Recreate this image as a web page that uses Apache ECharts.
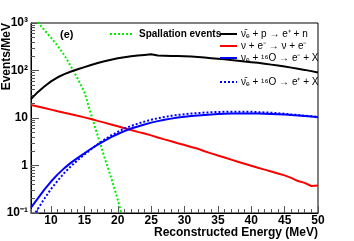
<!DOCTYPE html>
<html><head><meta charset="utf-8">
<script src="https://cdn.jsdelivr.net/npm/echarts@6/dist/echarts.min.js"></script>
<style>html,body{margin:0;padding:0;background:#fff}#c{width:354px;height:241px}</style>
</head><body><div id="c"></div>
<script>
// Energies (MeV)
const energy = [7,8,9,10,11,12,13,14,15,16,17,18,19,20,21,22,23,24,25,26,27,28,29,30,31,32,33,34,35,36,37,38,39,40,41,42,43,44,45,46,47,48,49,50];
const ibd = [25,35,46,59,72,84,95,106,118,131,144,157,169,181,191,199,207,213,219,207,205,203,201,199,196,192,187,182,177,172,166,161,155,150,145,139,133,127,121,115,109,103,97,91];
const nuE = [18.8,17.5,16.2,15.0,13.9,12.9,12.0,11.1,10.3,9.5,8.7,8.0,7.3,6.7,6.1,5.6,5.1,4.7,4.3,3.9,3.55,3.25,2.95,2.7,2.45,2.25,2.0,1.8,1.62,1.47,1.33,1.2,1.09,0.99,0.9,0.82,0.75,0.68,0.62,0.55,0.47,0.43,0.37,0.38];
const nueO = [0.13,0.2,0.31,0.46,0.65,0.88,1.15,1.45,1.8,2.25,2.75,3.3,3.95,4.6,5.3,6.0,6.6,7.3,8.0,8.6,9.2,9.7,10.2,10.6,11.0,11.3,11.6,11.9,12.1,12.3,12.4,12.5,12.5,12.5,12.4,12.3,12.2,12.0,11.8,11.5,11.3,11.0,10.7,10.4];
const nuebarO = [0.075,0.12,0.2,0.32,0.48,0.7,0.97,1.3,1.7,2.2,2.8,3.5,4.3,5.1,6.0,6.8,7.6,8.4,9.2,9.9,10.5,11.1,11.6,12.0,12.4,12.7,13.0,13.2,13.4,13.5,13.6,13.6,13.6,13.5,13.3,13.1,12.9,12.6,12.3,11.9,11.6,11.2,10.9,10.5];
const spallE = [8,9,10,11,12,13,14,15,16,17,18,19,20,21];
const spall = [1050,710,490,330,210,120,67,35,12,4.2,1.5,0.56,0.19,0.056];
const xTicks = [10,15,20,25,30,35,40,45,50];
const yMinor = [0.2,0.3,0.4,0.5,0.6,0.7,0.8,0.9,2,3,4,5,6,7,8,9,20,30,40,50,60,70,80,90,200,300,400,500,600,700,800,900];
const names = ['Spallation events','ν̄ₑ + p → e⁺ + n','ν + e⁻ → ν + e⁻','νₑ + ¹⁶O → e⁻ + X','ν̄ₑ + ¹⁶O → e⁺ + X'];
const yLabels = {'0.1':'10⁻¹','1':'1','10':'10','100':'10²','1000':'10³'};

const pairs = (xs, ys) => xs.map((x, i) => [x, ys[i]]);
const FONT = 'Liberation Sans, Arial, sans-serif';
const chart = echarts.init(document.getElementById('c'), null, {renderer: 'canvas'});
const mk = (name, xs, ys, color, type) => ({
  name, type: 'line', data: pairs(xs, ys), symbol: 'none', smooth: false, clip: true,
  lineStyle: {color, width: 2, type}, itemStyle: {color}, z: 3
});
const legendBase = {itemHeight: 10, itemGap: 2, itemStyle: {opacity: 0}, textStyle: {fontFamily: FONT, fontSize: 10, color: '#000', padding: [0, 0, 0, -1]}};
chart.setOption({
  animation: false,
  grid: {left: 31, top: 23, right: 36, bottom: 28, show: true, borderColor: '#000', borderWidth: 1},
  xAxis: [{
    type: 'value', min: 7, max: 50,
    axisLine: {show: true, lineStyle: {color: '#000', width: 1}},
    axisTick: {show: true, inside: true, length: 7, customValues: xTicks, lineStyle: {color: '#555'}},
    axisLabel: {customValues: xTicks, color: '#000', fontFamily: FONT, fontWeight: 'bold', fontSize: 12, margin: 2},
    splitLine: {show: false}
  }, {
    type: 'value', min: 7, max: 50, interval: 1, position: 'bottom',
    axisLine: {show: false},
    axisTick: {show: true, inside: true, length: 4, lineStyle: {color: '#555'}},
    axisLabel: {show: false}, splitLine: {show: false}
  }],
  yAxis: [{
    type: 'log', logBase: 10, min: 0.1, max: 1000,
    axisLine: {show: true, lineStyle: {color: '#000', width: 1}},
    axisTick: {show: true, inside: true, length: 8, lineStyle: {color: '#555'}},
    axisLabel: {color: '#000', fontFamily: FONT, fontWeight: 'bold', fontSize: 12, margin: 3,
      formatter: v => yLabels[String(+v.toPrecision(6))] || ''},
    splitLine: {show: false}
  }, {
    type: 'log', logBase: 10, min: 0.1, max: 1000, position: 'left',
    axisLine: {show: false},
    axisTick: {show: true, inside: true, length: 4, customValues: yMinor, lineStyle: {color: '#555'}},
    axisLabel: {show: false}, splitLine: {show: false}
  }],
  legend: [Object.assign({}, legendBase, {
    data: [names[0]], left: 104, top: 24, itemWidth: 24,
    textStyle: {fontFamily: FONT, fontWeight: 'bold', fontSize: 10, color: '#000'}
  }), Object.assign({}, legendBase, {
    data: [names[1], names[2], names[3]], orient: 'vertical', left: 214, top: 24, itemWidth: 17
  }), Object.assign({}, legendBase, {
    data: [names[4]], left: 214, top: 72, itemWidth: 17
  })],
  graphic: [
    {type: 'text', x: 60, y: 35, style: {text: '(e)', font: 'bold 11px ' + FONT, fill: '#000', verticalAlign: 'middle'}},
    {type: 'text', x: 318, y: 233, style: {text: 'Reconstructed Energy (MeV)', font: 'bold 12px ' + FONT, fill: '#000', align: 'right', verticalAlign: 'middle'}},
    {type: 'text', x: 7, y: 23, rotation: Math.PI / 2, style: {text: 'Events/MeV', font: 'bold 12px ' + FONT, fill: '#000', align: 'right', verticalAlign: 'middle'}}
  ],
  series: [
    mk(names[0], spallE, spall, '#00ee00', 'dotted'),
    mk(names[1], energy, ibd, '#000000', 'solid'),
    mk(names[2], energy, nuE, '#ff0000', 'solid'),
    mk(names[3], energy, nueO, '#0000ff', 'solid'),
    mk(names[4], energy, nuebarO, '#0000ff', 'dotted')
  ]
});
</script></body></html>
